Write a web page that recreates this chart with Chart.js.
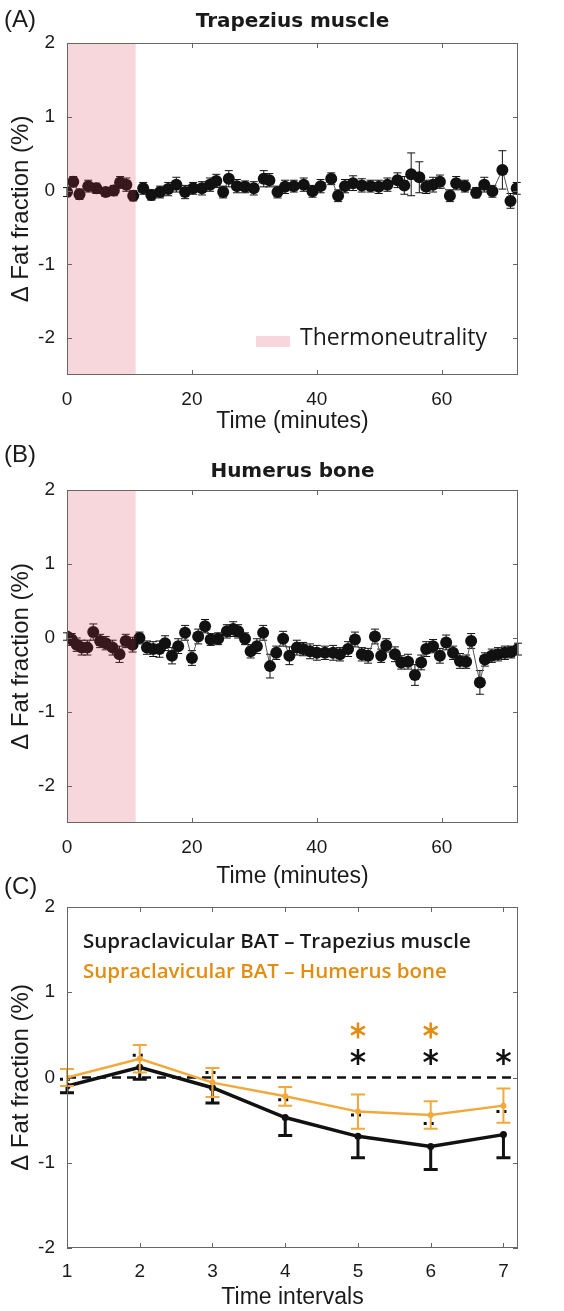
<!DOCTYPE html>
<html>
<head>
<meta charset="utf-8">
<script src="https://cdn.jsdelivr.net/npm/chart.js@4.4.1/dist/chart.umd.min.js"></script>
<style>
  html, body { margin: 0; padding: 0; background: #fff; overflow: hidden; }
  body { position: relative; width: 564px; height: 1311px; }
  canvas { position: absolute; left: 0; }
</style>
</head>
<body>
<canvas id="chartA" width="564" height="435" style="top:0px"></canvas>
<canvas id="chartB" width="564" height="450" style="top:440px"></canvas>
<canvas id="chartC" width="564" height="441" style="top:870px"></canvas>
<script>
// (A) Trapezius muscle - one value per scan
const timesA = [0, 1.0, 2.0, 3.4, 4.7, 6.2, 7.5, 8.5, 9.5, 10.6,
    12.2, 13.5, 14.9, 16.2, 17.5, 18.9, 20.2, 21.6, 22.9, 23.9,
    25.0, 25.9, 27.2, 28.5, 29.9, 31.5, 32.4, 33.7, 34.9, 36.3,
    37.9, 39.3, 40.6, 42.3, 43.4, 44.5, 45.8, 47.2, 48.6, 49.9,
    51.3, 52.9, 54.0, 55.1, 56.4, 57.5, 58.6, 59.7, 61.3, 62.3,
    63.7, 65.5, 66.8, 68.1, 69.7, 71.0, 72.0];
const fatA = [-0.02, 0.12, -0.05, 0.06, 0.03, -0.02, 0.00, 0.11, 0.08, -0.07,
    0.03, -0.06, -0.02, 0.02, 0.08, -0.02, 0.03, 0.03, 0.08, 0.13,
    -0.02, 0.16, 0.06, 0.05, 0.03, 0.16, 0.14, -0.02, 0.05, 0.06,
    0.08, -0.01, 0.06, 0.16, -0.07, 0.06, 0.10, 0.07, 0.06, 0.05,
    0.08, 0.14, 0.07, 0.22, 0.18, 0.05, 0.08, 0.12, -0.07, 0.10,
    0.06, -0.03, 0.08, -0.01, 0.28, -0.14, 0.03];
const errA = [0.06, 0.07, 0.07, 0.08, 0.07, 0.06, 0.07, 0.08, 0.09, 0.07,
    0.08, 0.07, 0.08, 0.09, 0.10, 0.09, 0.08, 0.09, 0.09, 0.09,
    0.08, 0.11, 0.09, 0.08, 0.09, 0.11, 0.09, 0.08, 0.09, 0.08,
    0.09, 0.08, 0.09, 0.08, 0.08, 0.09, 0.10, 0.09, 0.08, 0.09,
    0.09, 0.10, 0.12, 0.29, 0.21, 0.09, 0.10, 0.09, 0.08, 0.09,
    0.08, 0.07, 0.10, 0.08, 0.26, 0.10, 0.08];

// (B) Humerus bone
const timesB = [0, 0.75, 1.55, 2.35, 3.25, 4.2, 5.3, 6.2, 7.3, 8.4,
    9.4, 10.5, 11.6, 12.8, 13.8, 14.8, 15.7, 16.8, 17.8, 18.9,
    20.0, 21.0, 22.1, 23.0, 24.2, 25.6, 26.6, 27.4, 28.5, 29.4,
    30.4, 31.4, 32.5, 33.5, 34.6, 35.6, 36.8, 37.8, 38.9, 40.0,
    41.3, 42.6, 43.7, 45.0, 46.1, 47.2, 48.2, 49.3, 50.3, 51.1,
    52.5, 53.5, 54.6, 55.7, 56.7, 57.5, 58.6, 59.7, 60.7, 61.8,
    62.9, 63.9, 64.7, 66.1, 66.9, 68.0, 69.0, 70.1, 71.1, 72.2];
const fatB = [0.02, -0.02, -0.09, -0.13, -0.13, 0.08, -0.04, -0.07, -0.13, -0.22,
    -0.04, -0.09, 0.00, -0.13, -0.15, -0.15, -0.07, -0.24, -0.11, 0.07,
    -0.27, 0.02, 0.16, -0.02, -0.01, 0.09, 0.12, 0.09, -0.01, -0.18,
    -0.11, 0.07, -0.38, -0.20, -0.01, -0.24, -0.13, -0.15, -0.18, -0.20,
    -0.20, -0.20, -0.22, -0.15, -0.02, -0.22, -0.24, 0.02, -0.24, -0.10,
    -0.22, -0.33, -0.32, -0.50, -0.33, -0.15, -0.11, -0.24, -0.06, -0.20,
    -0.31, -0.32, -0.04, -0.60, -0.29, -0.24, -0.22, -0.20, -0.19, -0.15];
const errB = [0.05, 0.08, 0.09, 0.10, 0.10, 0.11, 0.09, 0.09, 0.10, 0.11,
    0.09, 0.10, 0.08, 0.09, 0.10, 0.11, 0.10, 0.11, 0.10, 0.10,
    0.10, 0.10, 0.09, 0.08, 0.08, 0.09, 0.10, 0.09, 0.08, 0.09,
    0.10, 0.10, 0.16, 0.09, 0.10, 0.12, 0.10, 0.09, 0.10, 0.10,
    0.09, 0.10, 0.09, 0.10, 0.10, 0.09, 0.10, 0.10, 0.09, 0.09,
    0.10, 0.09, 0.10, 0.14, 0.10, 0.10, 0.09, 0.10, 0.10, 0.09,
    0.10, 0.09, 0.10, 0.16, 0.09, 0.09, 0.09, 0.09, 0.08, 0.08];

// (C) interval means
const intervals = [1, 2, 3, 4, 5, 6, 7];
const batMuscle = [-0.10, 0.12, -0.12, -0.47, -0.69, -0.81, -0.67];
const batMuscleErr = [0.08, 0.14, 0.18, 0.21, 0.25, 0.27, 0.27];
const batBone = [0.00, 0.22, -0.06, -0.22, -0.40, -0.44, -0.33];
const batBoneErr = [0.10, 0.16, 0.17, 0.11, 0.20, 0.16, 0.20];
const starsMuscle = [5, 6, 7];
const starsBone = [5, 6];

const timeTicks = [0, 20, 40, 60];
const fatTicks = [-2, -1, 0, 1, 2];
const thermoEnd = 11;

const PINK = 'rgba(220, 55, 80, 0.2)';
const ORANGE = '#f2a93b';
const ORANGE_TEXT = '#e48c10';
const FRAME = '#666';
const TEXT = '#1a1a1a';
const YTITLE = 'Δ Fat fraction (%)';

// error bars drawn right before their own dataset
const errorBars = {
    id: 'errorBars',
    beforeDatasetDraw(chart, args) {
        const ds = chart.data.datasets[args.index];
        if (!ds.errors) return;
        const ctx = chart.ctx, x = chart.scales.x, y = chart.scales.y;
        const c = ds.capWidth / 2;
        ctx.save();
        ctx.strokeStyle = ds.errorColor;
        ctx.lineWidth = ds.errorWidth;
        ds.data.forEach(function(p, i) {
            const px = x.getPixelForValue(p.x);
            const mid = y.getPixelForValue(p.y);
            const lo = y.getPixelForValue(p.y - ds.errors[i]);
            const hi = y.getPixelForValue(p.y + ds.errors[i]);
            ctx.setLineDash([]);
            ctx.beginPath();
            ctx.moveTo(px, ds.dottedUpper ? mid : hi);
            ctx.lineTo(px, lo);
            ctx.moveTo(px - c, lo);
            ctx.lineTo(px + c, lo);
            if (!ds.dottedUpper) {
                ctx.moveTo(px - c, hi);
                ctx.lineTo(px + c, hi);
            }
            ctx.stroke();
            if (ds.dottedUpper) {
                ctx.setLineDash([3, 4]);
                ctx.beginPath();
                ctx.moveTo(px - c, hi);
                ctx.lineTo(px + c, hi);
                ctx.stroke();
            }
        });
        ctx.restore();
    }
};

// box frame with inward ticks, plus the panel letter
function framePlugin(letter, letterY) {
    return {
        id: 'frame',
        afterDraw(chart) {
            const {ctx, chartArea: a, scales: {x, y}} = chart;
            ctx.save();
            ctx.strokeStyle = FRAME;
            ctx.lineWidth = 1;
            ctx.strokeRect(a.left + 0.5, a.top + 0.5, a.right - a.left - 1, a.bottom - a.top - 1);
            ctx.beginPath();
            x.ticks.forEach(function(t) {
                const px = Math.round(x.getPixelForValue(t.value)) + 0.5;
                ctx.moveTo(px, a.bottom); ctx.lineTo(px, a.bottom - 5);
                ctx.moveTo(px, a.top); ctx.lineTo(px, a.top + 5);
            });
            y.ticks.forEach(function(t) {
                const py = Math.round(y.getPixelForValue(t.value)) + 0.5;
                ctx.moveTo(a.left, py); ctx.lineTo(a.left + 5, py);
                ctx.moveTo(a.right, py); ctx.lineTo(a.right - 5, py);
            });
            ctx.stroke();
            ctx.fillStyle = TEXT;
            ctx.font = '24px "Liberation Sans", Arial, sans-serif';
            ctx.textBaseline = 'middle';
            ctx.textAlign = 'left';
            ctx.fillText(letter, 4, letterY);
            ctx.restore();
        }
    };
}

// pink thermoneutrality band (drawn over the points, like the original)
function thermoPlugin(withLegend) {
    return {
        id: 'thermo',
        afterDatasetsDraw(chart) {
            const {ctx, chartArea: a, scales: {x}} = chart;
            const x0 = x.getPixelForValue(0), x1 = x.getPixelForValue(thermoEnd);
            ctx.save();
            ctx.fillStyle = PINK;
            ctx.fillRect(x0, a.top, x1 - x0, a.bottom - a.top);
            if (withLegend) {
                ctx.fillRect(a.right - 262, a.bottom - 39, 34, 11);
                ctx.fillStyle = TEXT;
                ctx.font = '23px "Open Sans", sans-serif';
                ctx.textBaseline = 'middle';
                ctx.fillText('Thermoneutrality', a.right - 218, a.bottom - 37);
            }
            ctx.restore();
        }
    };
}

function fatScale(min, max) {
    return {
        min: min,
        max: max,
        afterBuildTicks: function(s) { s.ticks = fatTicks.map(v => ({value: v})); },
        afterFit: function(s) { s.width = 67; },
        grid: {display: false, drawTicks: false},
        border: {display: false},
        ticks: {padding: 12, color: TEXT, font: {family: 'Liberation Sans', size: 19}},
        title: {display: true, text: YTITLE, color: TEXT, padding: {top: 7, bottom: 0},
            font: {family: 'Liberation Sans', size: 24}}
    };
}

function xScale(min, max, ticks, height, pad, label) {
    return {
        type: 'linear',
        min: min,
        max: max,
        afterBuildTicks: function(s) { s.ticks = ticks.map(v => ({value: v})); },
        afterFit: function(s) { s.height = height; },
        grid: {display: false, drawTicks: false},
        border: {display: false},
        ticks: {padding: pad, color: TEXT, maxRotation: 0, font: {family: 'Liberation Sans', size: 19}},
        title: {display: true, text: label, color: TEXT, padding: {top: 0, bottom: 0},
            font: {family: 'Liberation Sans', size: 23}}
    };
}

function timeChart(id, title, times, vals, errs, titlePad, xHeight, xPad, letter, letterY, withLegend) {
    const ctx = document.getElementById(id).getContext('2d');
    return new Chart(ctx, {
        type: 'scatter',
        data: {
            datasets: [{
                data: times.map((t, i) => ({x: t, y: vals[i]})),
                showLine: true,
                borderColor: '#555',
                borderWidth: 1,
                pointRadius: 6,
                pointBackgroundColor: '#111',
                pointBorderWidth: 0,
                errors: errs,
                errorColor: '#111',
                errorWidth: 1,
                capWidth: 8
            }]
        },
        options: {
            responsive: false,
            animation: false,
            events: [],
            layout: {padding: {left: 0, right: 46, top: 0, bottom: 0}},
            scales: {
                x: xScale(0, 72.2, timeTicks, xHeight, xPad, 'Time (minutes)'),
                y: fatScale(-2.5, 2)
            },
            plugins: {
                legend: {display: false},
                tooltip: {enabled: false},
                title: {
                    display: true,
                    text: title,
                    fullSize: false,
                    color: TEXT,
                    font: {family: 'DejaVu Sans', weight: 'bold', size: 20},
                    padding: titlePad
                }
            }
        },
        plugins: [errorBars, thermoPlugin(withLegend), framePlugin(letter, letterY)]
    });
}

timeChart('chartA', 'Trapezius muscle', timesA, fatA, errA, {top: 10, bottom: 9}, 60, 13, '(A)', 20, true);
timeChart('chartB', 'Humerus bone', timesB, fatB, errB, {top: 20, bottom: 6}, 67, 13, '(B)', 15, false);

// (C) zero line, legend text and significance stars
function drawStar(ctx, cx, cy, r, color) {
    ctx.save();
    ctx.strokeStyle = color;
    ctx.lineWidth = 2.5;
    ctx.beginPath();
    [90, 30, -30].forEach(function(deg) {
        const a = deg * Math.PI / 180;
        ctx.moveTo(cx - r * Math.cos(a), cy - r * Math.sin(a));
        ctx.lineTo(cx + r * Math.cos(a), cy + r * Math.sin(a));
    });
    ctx.stroke();
    ctx.restore();
}

const intervalDecor = {
    id: 'intervalDecor',
    beforeDatasetsDraw(chart) {
        const {ctx, chartArea: a, scales: {y}} = chart;
        const py = y.getPixelForValue(0);
        ctx.save();
        ctx.strokeStyle = '#111';
        ctx.lineWidth = 2.5;
        ctx.setLineDash([9, 6]);
        ctx.beginPath();
        ctx.moveTo(a.left, py);
        ctx.lineTo(a.right, py);
        ctx.stroke();
        ctx.restore();
    },
    afterDatasetsDraw(chart) {
        const {ctx, chartArea: a, scales: {x, y}} = chart;
        ctx.save();
        ctx.textBaseline = 'middle';
        ctx.font = '600 20.5px "Open Sans", sans-serif';
        ctx.fillStyle = TEXT;
        ctx.fillText('Supraclavicular BAT \u2013 Trapezius muscle', a.left + 16, a.top + 35);
        ctx.fillStyle = ORANGE_TEXT;
        ctx.fillText('Supraclavicular BAT \u2013 Humerus bone', a.left + 16, a.top + 65);
        ctx.restore();
        starsBone.forEach(v => drawStar(ctx, x.getPixelForValue(v), y.getPixelForValue(0.55), 8, ORANGE_TEXT));
        starsMuscle.forEach(v => drawStar(ctx, x.getPixelForValue(v), y.getPixelForValue(0.24), 8, '#111'));
    }
};

new Chart(document.getElementById('chartC').getContext('2d'), {
    type: 'scatter',
    data: {
        datasets: [{
            label: 'Supraclavicular BAT - Humerus bone',
            data: intervals.map((v, i) => ({x: v, y: batBone[i]})),
            showLine: true,
            borderColor: ORANGE,
            borderWidth: 2.5,
            pointRadius: 3,
            pointBackgroundColor: ORANGE,
            pointBorderWidth: 0,
            errors: batBoneErr,
            errorColor: ORANGE,
            errorWidth: 2,
            capWidth: 14
        }, {
            label: 'Supraclavicular BAT - Trapezius muscle',
            data: intervals.map((v, i) => ({x: v, y: batMuscle[i]})),
            showLine: true,
            borderColor: '#111',
            borderWidth: 3.5,
            pointRadius: 3.5,
            pointBackgroundColor: '#111',
            pointBorderWidth: 0,
            errors: batMuscleErr,
            errorColor: '#111',
            errorWidth: 3,
            capWidth: 14,
            dottedUpper: true
        }]
    },
    options: {
        responsive: false,
        animation: false,
        events: [],
        layout: {padding: {left: 0, right: 46, top: 37, bottom: 0}},
        scales: {
            x: xScale(1, 7.2, intervals, 63, 12, 'Time intervals'),
            y: fatScale(-2, 2)
        },
        plugins: {
            legend: {display: false},
            tooltip: {enabled: false}
        }
    },
    plugins: [errorBars, intervalDecor, framePlugin('(C)', 17)]
});
</script>
</body>
</html>
